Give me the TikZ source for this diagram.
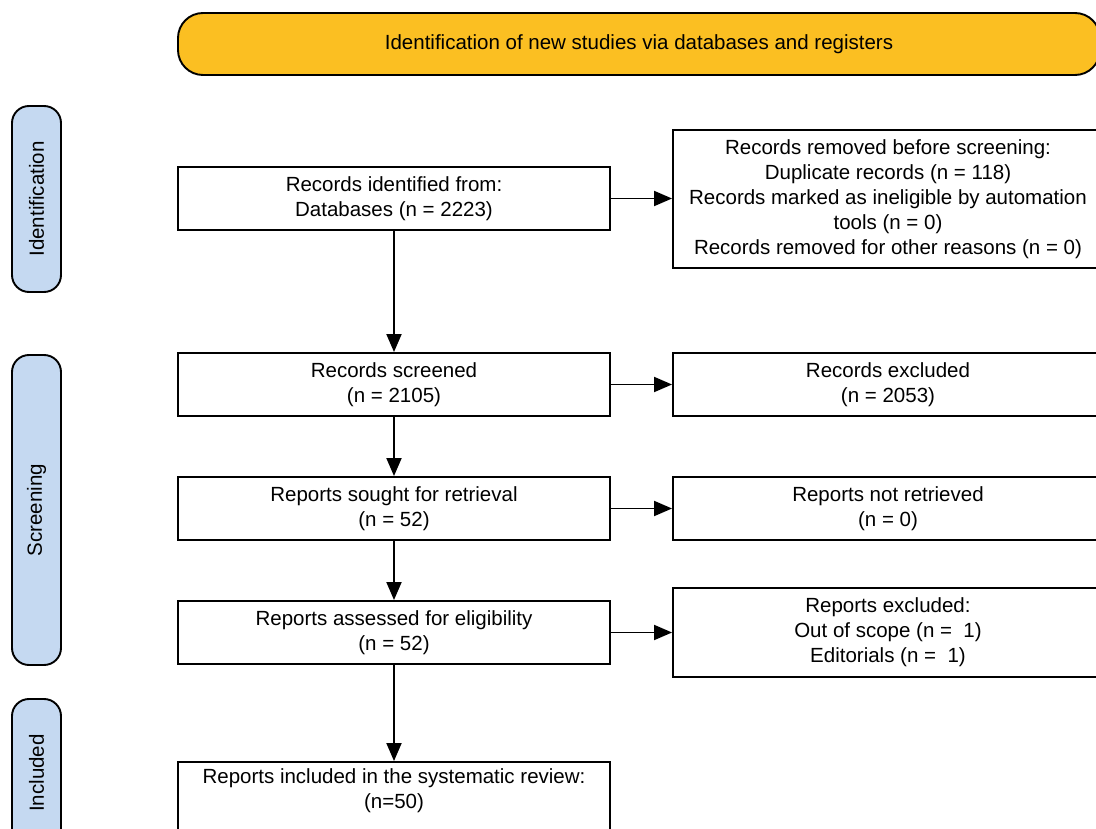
\documentclass[tikz,border=0pt]{standalone}
\usepackage{fontspec}
\setmainfont{Liberation Sans}
\usetikzlibrary{arrows.meta}
\definecolor{bannerfill}{HTML}{FBBF22}
\definecolor{pillfill}{HTML}{C5D9F1}
\begin{document}
\begin{tikzpicture}[x=1pt,y=-1pt,
  every node/.style={font=\fontsize{20.5}{25}\selectfont},
  box/.style={draw=black, line width=1.9pt, fill=white, minimum width=432pt, minimum height=63pt, align=center, inner sep=0pt},
  rbox/.style={box, minimum width=430pt},
  pill/.style={draw=black, line width=1.9pt, fill=pillfill, rounded corners=17pt, rotate=90, minimum height=49pt, inner sep=0pt},
  banner/.style={draw=black, line width=1.9pt, fill=bannerfill, rounded corners=25pt, minimum width=922pt, minimum height=62pt, inner sep=0pt},
  arr/.style={line width=1.9pt, -{Triangle[length=18pt,width=15pt]}}]
\fill[white] (0,0) rectangle (1096,829);
\useasboundingbox (0,0) rectangle (1096,829);
% banner
\node[banner] (ban) at (639,44) {Identification of new studies via databases and registers};
% side pills
\node[pill, minimum width=186pt] (pid) at (36.5,199) {Identification};
\node[pill, minimum width=310pt] (pscr) at (36.5,510) {Screening};
\node[pill, minimum width=148pt] (pinc) at (36.5,773) {Included};
% left column
\node[box] (id) at (394,198.5) {Records identified from:\\Databases (n = 2223)};
\node[box] (scr) at (394,384.5) {Records screened\\(n = 2105)};
\node[box] (sought) at (394,508.5) {Reports sought for retrieval\\(n = 52)};
\node[box] (assess) at (394,632.5) {Reports assessed for eligibility\\(n = 52)};
\node[box, minimum height=76pt] (incl) at (394,800) {};
\node[align=center, inner sep=0pt] (incltext) at (394,791) {Reports included in the systematic review:\\(n=50)};
% right column
\node[rbox, minimum height=138pt] (rem) at (888,199) {Records removed before screening:\\Duplicate records (n = 118)\\Records marked as ineligible by automation\\tools (n = 0)\\Records removed for other reasons (n = 0)};
\node[rbox] (exc) at (888,384.5) {Records excluded\\(n = 2053)};
\node[rbox] (notret) at (888,508.5) {Reports not retrieved\\(n = 0)};
\node[rbox, minimum height=89pt] (repexc) at (888,632.5) {Reports excluded:\\Out of scope (n =\ \ 1)\\Editorials (n =\ \ 1)};
% arrows
\draw[arr] (id.south) -- (scr.north);
\draw[arr] (scr.south) -- (sought.north);
\draw[arr] (sought.south) -- (assess.north);
\draw[arr] (assess.south) -- (incl.north);
\draw[arr] (id.east) -- (id.east -| rem.west);
\draw[arr] (scr.east) -- (exc.west);
\draw[arr] (sought.east) -- (notret.west);
\draw[arr] (assess.east) -- (repexc.west);
\end{tikzpicture}
\end{document}
